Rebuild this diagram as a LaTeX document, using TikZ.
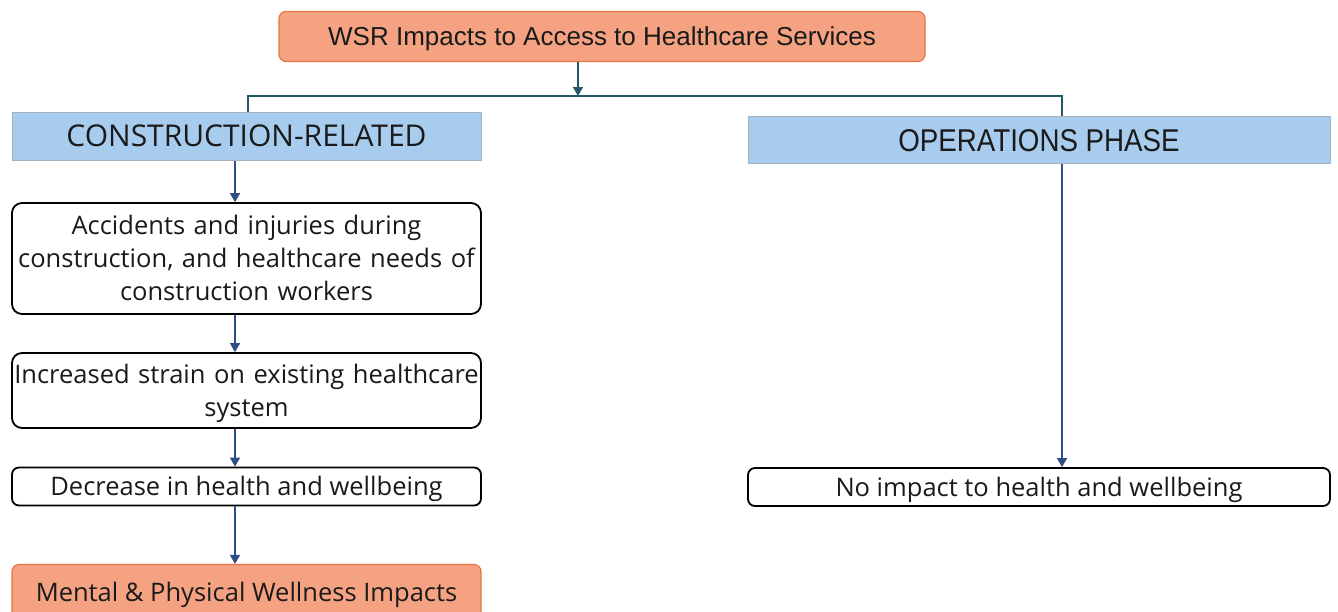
\documentclass[tikz,border=0pt]{standalone}
\usepackage{fontspec}
\setmainfont{Open Sans}
\newfontfamily\hfont{Liberation Sans}
\newfontfamily\nfont[FakeStretch=0.88]{Liberation Sans}
\usetikzlibrary{arrows.meta}
\definecolor{orfill}{HTML}{F5A282}
\definecolor{orline}{HTML}{E8733F}
\definecolor{blfill}{HTML}{A8CCEE}
\definecolor{blline}{HTML}{A5B3C0}
\definecolor{arrblue}{HTML}{2F4E86}
\definecolor{busteal}{HTML}{24566A}
\definecolor{txt}{HTML}{1A1A1A}
\begin{document}
\begin{tikzpicture}[x=1pt,y=-1pt,
  orbox/.style={draw=orline,line width=1.2pt,fill=orfill,rounded corners=7pt,inner sep=0pt,align=center,text=txt},
  blbox/.style={draw=blline,line width=1pt,fill=blfill,inner sep=0pt,align=center,text=txt},
  whbox/.style={draw=black,line width=1.8pt,fill=white,rounded corners=10pt,inner sep=0pt,align=center,text=txt},
  arr/.style={draw=arrblue,line width=1.5pt,-{Triangle[length=9pt,width=10pt]}},
  bus/.style={draw=busteal,line width=1.5pt},
  bodytext/.style={font=\fontsize{25.5}{33}\selectfont,text height=18pt}]
\useasboundingbox (0,0) rectangle (1338,611);
\node[orbox,minimum width=646pt,minimum height=50pt,font=\hfont\fontsize{26}{30}\selectfont,text height=18.5pt,text depth=0pt] (top) at (602,36.5) {WSR Impacts to Access to Healthcare Services};
\node[blbox,minimum width=469pt,minimum height=48pt,font=\fontsize{30}{34}\selectfont,text height=21.4pt,text depth=0pt] (cons) at (246.5,136) {CONSTRUCTION-RELATED};
\node[blbox,minimum width=582pt,minimum height=47pt,font=\nfont\fontsize{31.5}{34}\selectfont,text height=22.5pt,text depth=0pt] (ops) at (1039,140) {OPERATIONS PHASE};
\node[whbox,minimum width=469pt,minimum height=111pt,text width=469pt,bodytext,text depth=66pt] (b1) at (246.5,258.5) {Accidents and injuries during\\construction, and healthcare needs of\\construction workers};
\node[whbox,minimum width=469pt,minimum height=75pt,text width=469pt,bodytext,text depth=33pt] (b2) at (246.5,390.5) {Increased strain on existing healthcare\\system};
\node[whbox,minimum width=469pt,minimum height=38pt,rounded corners=7pt,bodytext,text depth=0pt] (b3) at (246.5,486.5) {Decrease in health and wellbeing};
\node[orbox,minimum width=469pt,minimum height=56pt,bodytext,text depth=0pt] (b4) at (246.5,592.5) {Mental \& Physical Wellness Impacts};
\node[whbox,minimum width=582pt,minimum height=38pt,rounded corners=7pt,bodytext,text depth=0pt] (nb) at (1039,487) {No impact to health and wellbeing};
\coordinate (busL) at (248,96);
\coordinate (busR) at (1062,96);
\draw[arr,draw=busteal] ([xshift=-24pt]top.south) -- ([xshift=-24pt]top.south |- busL);
\draw[bus] ([xshift=1.5pt]cons.north) -- (busL) -- (busR) -- ([xshift=23pt]ops.north);
\draw[arr] ([xshift=-11.5pt]cons.south) -- ([xshift=-11.5pt]b1.north);
\draw[arr] ([xshift=-11.5pt]b1.south) -- ([xshift=-11.5pt]b2.north);
\draw[arr] ([xshift=-11.5pt]b2.south) -- ([xshift=-11.5pt]b3.north);
\draw[arr] ([xshift=-11.5pt]b3.south) -- ([xshift=-11.5pt]b4.north);
\draw[arr] ([xshift=23pt]ops.south) -- ([xshift=23pt]nb.north);
\end{tikzpicture}
\end{document}
